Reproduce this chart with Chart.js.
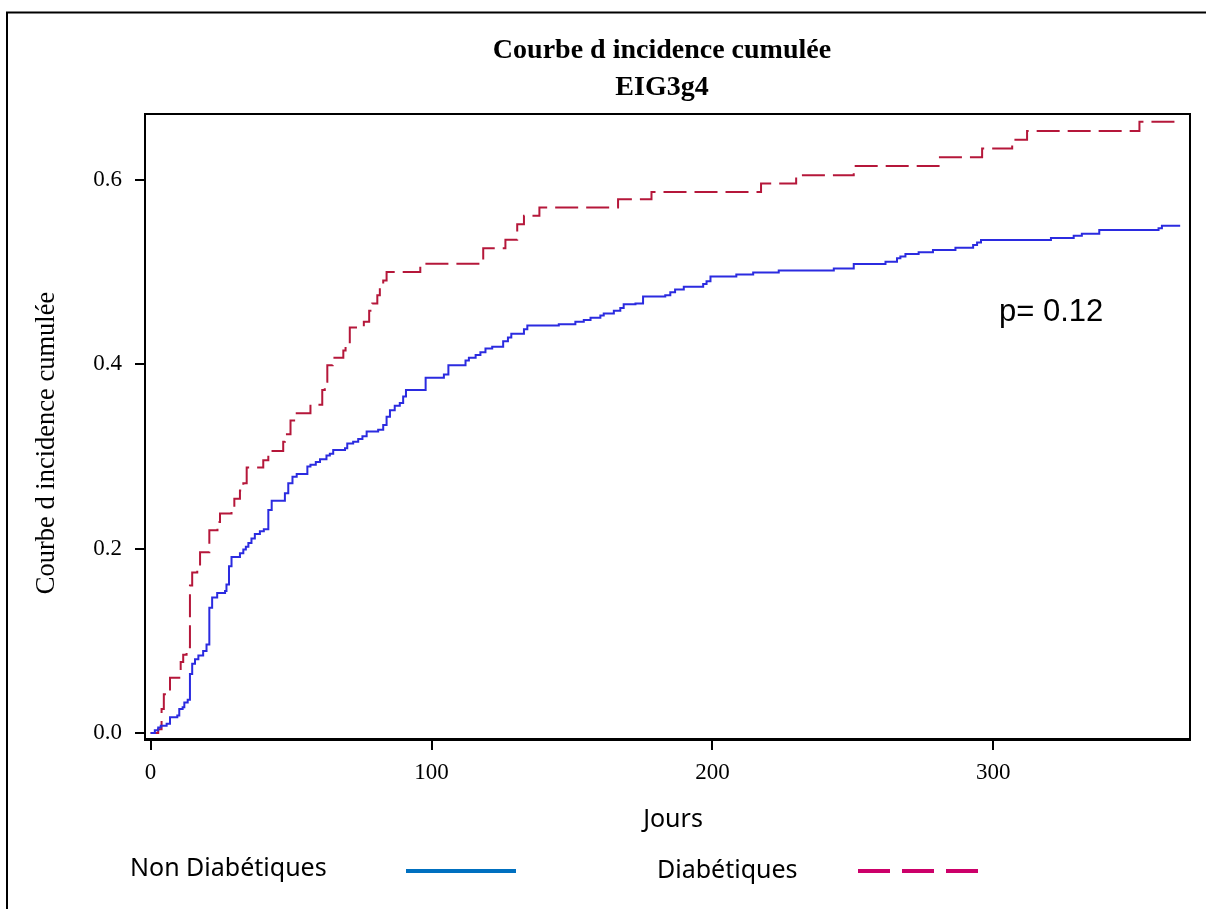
<!DOCTYPE html>
<html>
<head>
<meta charset="utf-8">
<script src="https://cdn.jsdelivr.net/npm/chart.js@4"></script>
<style>
  html, body { margin: 0; padding: 0; background: #fff; }
  #wrap { width: 1206px; height: 909px; }
</style>
</head>
<body>
<div id="wrap"><canvas id="kmChart" width="1206" height="909"></canvas></div>
<script>
// Titles and labels
const chartTitle = ['Courbe d incidence cumulée', 'EIG3g4'];
const yTitle = 'Courbe d incidence cumulée';
const xTitle = 'Jours';
const seriesNames = ['Non Diabétiques', 'Diabétiques'];
const pValueText = 'p= 0.12';

// Tick labels
const xTicks = [0, 100, 200, 300];
const yTicks = [0, 0.2, 0.4, 0.6];

// Non diabetic group: event times (days) and cumulative incidence
const nonDiabDays = [0, 1.5, 2.7, 3.6, 5.7, 6.9, 9.5, 10.2, 11.4, 12, 13.2, 14, 14.8, 15.8, 17, 18.7, 19.9,
  20.9, 21.9, 23.7, 26.5, 27, 27.9, 28.8, 31.8, 33, 33.9, 34.8, 35.9, 37.1, 38.9, 40.3, 41.9, 43.1,
  47.8, 49, 50.5, 52, 55.8, 56.9, 58.8, 60.3, 62.6, 63.8, 65, 69.2, 70, 72.1, 73.9, 75.4, 76.9,
  81, 82.8, 84, 85.2, 86.9, 88.7, 89.9, 90.9, 97.9, 104.4, 106, 112.1, 113.3, 115.7, 117.4, 119.2,
  121.6, 125.5, 127.2, 128.4, 132.9, 134.1, 145.3, 151.2, 154.2, 156.6, 160.1, 161.3, 164.9, 167.2,
  168.4, 172.6, 175.3, 183.2, 185, 186.7, 189.8, 196.7, 197.9, 199.3, 208.5, 214.5, 223.6, 243.2,
  250.3, 261.6, 265.7, 266.9, 268.7, 273.4, 278.5, 286.5, 292.8, 294.2, 295.6, 320.5, 328.6, 331.5,
  337.7, 358.8, 360, 366.5];
const nonDiabInc = [0, 0.003, 0.006, 0.008, 0.010, 0.017, 0.019, 0.026, 0.028, 0.033, 0.036, 0.064, 0.075, 0.080, 0.084, 0.089, 0.096,
  0.136, 0.147, 0.152, 0.154, 0.161, 0.181, 0.191, 0.195, 0.199, 0.202, 0.206, 0.211, 0.216, 0.219, 0.221, 0.242, 0.252,
  0.260, 0.271, 0.278, 0.281, 0.289, 0.291, 0.294, 0.297, 0.301, 0.303, 0.307, 0.309, 0.314, 0.316, 0.319, 0.322, 0.327,
  0.329, 0.334, 0.343, 0.350, 0.355, 0.358, 0.365, 0.372, 0.3855, 0.389, 0.399, 0.404, 0.407, 0.410, 0.413, 0.417,
  0.419, 0.425, 0.429, 0.433, 0.438, 0.442, 0.4435, 0.446, 0.448, 0.4505, 0.453, 0.455, 0.458, 0.461,
  0.465, 0.466, 0.4735, 0.475, 0.478, 0.481, 0.484, 0.487, 0.490, 0.4953, 0.4975, 0.4996, 0.5018, 0.504,
  0.5087, 0.5112, 0.515, 0.517, 0.5196, 0.5214, 0.5239, 0.5265, 0.5294, 0.532, 0.5348, 0.537, 0.5395, 0.5417,
  0.5457, 0.5475, 0.5504, 0.5504];

// Diabetic group
const diabDays = [0, 2.7, 3.9, 4.7, 6.9, 10.2, 10.7, 11.6, 12.8, 14, 14.8, 16.6, 17.6, 20.9, 23.8, 24.7,
  28.8, 29.8, 31.8, 33, 34.2, 40.1, 41.9, 47.2, 47.8, 49.8, 51.6, 56.9, 61.1, 62, 62.9, 64.8, 68.6,
  69.4, 70.9, 75.9, 77.8, 78.9, 80.7, 81.6, 82.8, 84, 96, 118.4, 126.3, 130.5, 132.9, 138.4, 166.4,
  178.3, 217.3, 229.8, 250.3, 280.5, 296, 306.7, 312, 352, 366.5];
const diabInc = [0, 0.004, 0.026, 0.042, 0.060, 0.067, 0.077, 0.085, 0.093, 0.160, 0.174, 0.179, 0.196, 0.220, 0.229, 0.238,
  0.245, 0.254, 0.263, 0.271, 0.288, 0.296, 0.306, 0.316, 0.324, 0.339, 0.347, 0.356, 0.372, 0.381, 0.399, 0.407, 0.415,
  0.424, 0.440, 0.446, 0.458, 0.466, 0.475, 0.484, 0.491, 0.500, 0.509, 0.526, 0.535, 0.552, 0.561, 0.570, 0.579,
  0.587, 0.596, 0.605, 0.615, 0.6245, 0.634, 0.6435, 0.653, 0.663, 0.663];

const toPoints = (xs, ys) => xs.map((x, i) => ({ x: x, y: ys[i] }));

// draws the frame, titles, legend and p value
const decorations = {
  id: 'decorations',
  afterDraw(chart) {
    const c = chart.ctx;
    const a = chart.chartArea;
    c.save();
    c.strokeStyle = '#000';

    // outer border (top + left)
    c.lineWidth = 2;
    c.beginPath();
    c.moveTo(7, 909);
    c.lineTo(7, 12.5);
    c.lineTo(1206, 12.5);
    c.stroke();

    // plot frame
    c.lineWidth = 2;
    c.strokeRect(a.left, a.top, a.right - a.left, a.bottom - a.top);
    c.lineWidth = 3;
    c.beginPath();
    c.moveTo(a.left - 1, a.bottom + 0.5);
    c.lineTo(a.right + 1, a.bottom + 0.5);
    c.stroke();

    c.fillStyle = '#000';
    c.textAlign = 'center';
    c.textBaseline = 'middle';

    // title
    c.font = 'bold 28px "Liberation Serif"';
    c.fillText(chartTitle[0], 662, 51);
    c.fillText(chartTitle[1], 662, 88);

    // y title
    c.save();
    c.translate(47, 443);
    c.rotate(-Math.PI / 2);
    c.font = '26.5px "Liberation Serif"';
    c.fillText(yTitle, 0, 0);
    c.restore();

    // x title
    c.font = '25px "Noto Sans"';
    c.fillText(xTitle, 673, 820);

    // p value
    c.font = '31px "Liberation Sans"';
    c.textAlign = 'left';
    c.fillText(pValueText, 999, 312);

    // legend
    c.font = '25px "Noto Sans"';
    c.fillText(seriesNames[0], 130, 869);
    c.fillText(seriesNames[1], 657, 871);
    c.lineWidth = 4;
    c.strokeStyle = '#0070C0';
    c.beginPath();
    c.moveTo(406, 871);
    c.lineTo(516, 871);
    c.stroke();
    c.strokeStyle = '#CC006A';
    c.setLineDash([32, 12]);
    c.beginPath();
    c.moveTo(858, 871);
    c.lineTo(978, 871);
    c.stroke();
    c.restore();
  }
};

const ctx = document.getElementById('kmChart').getContext('2d');

new Chart(ctx, {
  type: 'line',
  data: {
    datasets: [
      {
        label: seriesNames[0],
        data: toPoints(nonDiabDays, nonDiabInc),
        stepped: 'before',
        borderColor: '#2B2BE0',
        borderWidth: 2,
        pointRadius: 0,
        fill: false
      },
      {
        label: seriesNames[1],
        data: toPoints(diabDays, diabInc),
        stepped: 'before',
        borderColor: '#B5173A',
        borderWidth: 2,
        borderDash: [23, 8],
        pointRadius: 0,
        fill: false
      }
    ]
  },
  options: {
    responsive: false,
    animation: false,
    layout: { padding: { top: 114, right: 16, left: 0, bottom: 0 } },
    plugins: {
      legend: { display: false },
      title: { display: false },
      tooltip: { enabled: false }
    },
    scales: {
      x: {
        type: 'linear',
        min: -2,
        max: 370,
        afterFit: (scale) => { scale.height = 170; },
        afterBuildTicks: (scale) => { scale.ticks = xTicks.map(v => ({ value: v })); },
        border: { display: false },
        grid: { drawOnChartArea: false, drawTicks: true, tickLength: 11, color: '#000', lineWidth: 2 },
        ticks: {
          color: '#000',
          padding: 9,
          maxRotation: 0,
          font: { family: 'Liberation Serif', size: 23 },
          callback: (v) => String(v)
        }
      },
      y: {
        min: -0.0065,
        max: 0.6715,
        afterFit: (scale) => { scale.width = 145; },
        afterBuildTicks: (scale) => { scale.ticks = yTicks.map(v => ({ value: v })); },
        border: { display: false },
        grid: { drawOnChartArea: false, drawTicks: true, tickLength: 10, color: '#000', lineWidth: 2 },
        ticks: {
          color: '#000',
          padding: 13,
          font: { family: 'Liberation Serif', size: 23 },
          callback: (v) => Number(v).toFixed(1)
        }
      }
    }
  },
  plugins: [decorations]
});
</script>
</body>
</html>
